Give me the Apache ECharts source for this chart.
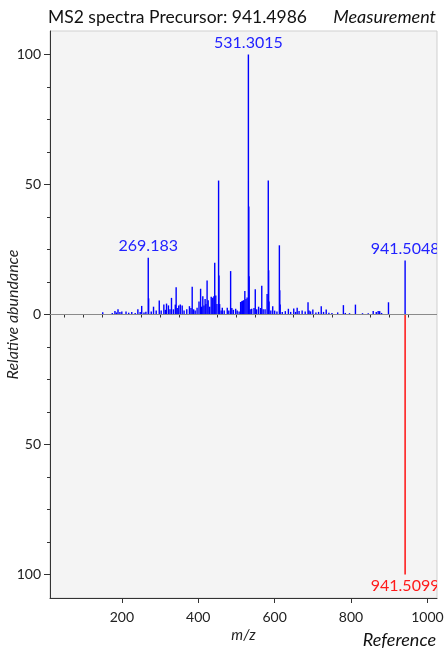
<!DOCTYPE html>
<html>
<head>
<meta charset="utf-8">
<script src="https://cdn.jsdelivr.net/npm/echarts@6/dist/echarts.min.js"></script>
<style>
  html, body { margin: 0; padding: 0; background: #ffffff; }
  #chart { width: 445px; height: 652px; }
</style>
</head>
<body>
<div id="chart"></div>
<script>
// Measured MS2 spectrum (m/z, relative abundance %)
const measuredMz = [
  150, 175, 182, 186, 190, 195, 200, 211, 218, 226, 235, 242, 248, 252, 258, 263,
  269.183, 270.19, 277, 283, 290, 298, 303, 310, 314, 317, 322, 326, 330, 335, 340,
  342.2, 345, 349, 353, 358, 363, 370, 377, 381, 384.2, 388, 392, 397, 402, 406.2,
  409, 412, 415, 418, 420, 423.2, 426, 430, 434, 438, 441, 443.2, 446, 449, 453.28,
  454.28, 456, 460, 463, 468, 476, 480, 484.8, 488, 492, 498, 502, 507, 511, 514,
  516, 519, 522, 525, 528, 531.3015, 532.3, 533.3, 536, 540, 546, 549.3, 553, 558,
  563, 566.3, 570, 575, 580.3, 583.36, 584.36, 585.4, 590, 595, 600, 606, 612.4,
  613.4, 614.4, 620, 628, 636, 642, 650, 655, 659, 664, 672, 680, 687.4, 690, 694,
  700, 708, 715, 722, 728, 735, 742, 750, 765, 780, 785, 796, 811.5, 830, 845, 858,
  866, 871, 875, 880, 898, 941.5048
];
const measuredIntensity = [
  0.9, 0.6, 1.3, 0.8, 2.0, 1.0, 1.2, 1.2, 0.7, 1.0, 0.6, 2.0, 1.0, 3.3, 0.8, 1.1,
  21.8, 6.2, 1.2, 3.0, 1.5, 5.4, 1.5, 3.8, 1.8, 4.2, 3.5, 2.0, 6.4, 2.0, 3.8,
  10.5, 2.5, 3.5, 3.8, 3.5, 1.5, 2.0, 3.2, 2.5, 10.7, 2.0, 1.5, 2.6, 5.0, 9.9,
  3.0, 7.0, 3.5, 6.0, 4.0, 13.1, 5.5, 3.0, 6.8, 6.4, 7.0, 19.9, 7.3, 4.0, 51.5,
  15.0, 4.0, 1.5, 2.6, 1.5, 2.6, 1.5, 16.7, 2.5, 1.8, 2.2, 1.5, 1.2, 4.8, 5.1,
  5.3, 5.5, 9.0, 6.0, 6.5, 100, 41.5, 14.7, 2.0, 2.2, 2.5, 9.7, 2.0, 3.0,
  2.5, 11.1, 2.0, 2.0, 7.9, 51.5, 17.0, 5.0, 1.5, 3.2, 1.5, 1.2, 26.6,
  9.3, 3.8, 1.0, 1.3, 2.2, 1.0, 2.3, 1.0, 2.6, 1.3, 1.5, 1.2, 4.7, 1.5, 1.2,
  1.9, 0.8, 1.0, 3.2, 1.0, 1.9, 0.7, 0.6, 0.8, 3.6, 0.6, 0.5, 3.8, 0.5, 0.5, 1.3,
  1.0, 1.3, 1.3, 0.6, 4.7, 20.8
];
const measuredLabelled = [269.183, 531.3015, 941.5048];

// Reference spectrum, drawn mirrored below the axis
const referenceMz = [941.5099];
const referenceIntensity = [100];
const referenceLabelled = [941.5099];

// Axis ticks
const mzTicks = [200, 400, 600, 800, 1000];
const mzMinorTicks = [50, 100, 150, 250, 300, 350, 450, 500, 550, 650, 700, 750, 850, 900, 950];
const abundanceTicks = [-100, -50, 0, 50, 100];
const abundanceMinorTicks = [-87.5, -75, -62.5, -37.5, -25, -12.5, 12.5, 25, 37.5, 62.5, 75, 87.5];

const titleText = 'MS2 spectra Precursor: 941.4986';
const FONT = 'Lato, "Noto Sans", sans-serif';

const chart = echarts.init(document.getElementById('chart'), null, { renderer: 'canvas' });

function peakRenderer(color, labelColor, sign, labelled) {
  return function (params, api) {
    const mz = api.value(0);
    const val = api.value(1) * sign;
    const base = api.coord([mz, 0]);
    const tip = api.coord([mz, val]);
    const children = [{
      type: 'line',
      shape: { x1: base[0], y1: base[1], x2: tip[0], y2: tip[1] },
      style: { stroke: color, lineWidth: 1.4 }
    }];
    if (labelled.indexOf(mz) >= 0) {
      children.push({
        type: 'text',
        x: tip[0],
        y: tip[1] + (sign > 0 ? -4 : 3),
        style: {
          text: String(mz),
          fill: labelColor,
          font: '16px ' + FONT,
          align: 'center',
          verticalAlign: sign > 0 ? 'bottom' : 'top'
        }
      });
    }
    return { type: 'group', children: children };
  };
}

const xMin = 12, xMax = 1025;
const yMin = -109, yMax = 109;

const option = {
  backgroundColor: '#ffffff',
  animation: false,
  textStyle: { fontFamily: FONT },
  grid: {
    left: 50, right: 8, top: 31, bottom: 54,
    containLabel: false, outerBoundsMode: 'none',
    show: true, backgroundColor: '#f4f4f4', borderColor: '#cfcfcf', borderWidth: 1
  },
  xAxis: [
    {
      type: 'value', min: xMin, max: xMax, position: 'bottom',
      name: 'm/z', nameLocation: 'middle', nameGap: 30, nameMoveOverlap: false,
      nameTextStyle: { fontStyle: 'italic', fontSize: 15, color: '#222', fontFamily: FONT },
      axisLine: { show: true, onZero: false, lineStyle: { color: '#333', width: 1 } },
      axisTick: { show: true, customValues: mzTicks, length: 5, lineStyle: { color: '#333' } },
      axisLabel: {
        customValues: mzTicks, margin: 12, fontSize: 14, color: '#222', fontFamily: FONT,
        formatter: function (v) { return String(v); }
      },
      splitLine: { show: false }
    },
    {
      type: 'value', min: xMin, max: xMax, position: 'bottom',
      axisLine: { show: false },
      axisTick: { show: true, customValues: mzMinorTicks, length: 3, lineStyle: { color: '#333' } },
      axisLabel: { show: false },
      splitLine: { show: false }
    }
  ],
  yAxis: [
    {
      type: 'value', min: yMin, max: yMax, position: 'left',
      name: 'Relative abundance', nameLocation: 'middle', nameGap: 29, nameRotate: 90,
      nameMoveOverlap: false,
      nameTextStyle: { fontStyle: 'italic', fontSize: 16, color: '#222', fontFamily: FONT },
      axisLine: { show: true, onZero: false, lineStyle: { color: '#333', width: 1 } },
      axisTick: { show: true, customValues: abundanceTicks, length: 6, lineStyle: { color: '#333' } },
      axisLabel: {
        customValues: abundanceTicks, margin: 9, fontSize: 14, color: '#222', fontFamily: FONT,
        formatter: function (v) { return String(Math.abs(v)); }
      },
      splitLine: { show: false }
    },
    {
      type: 'value', min: yMin, max: yMax, position: 'left',
      axisLine: { show: false },
      axisTick: { show: true, customValues: abundanceMinorTicks, length: 3, lineStyle: { color: '#333' } },
      axisLabel: { show: false },
      splitLine: { show: false }
    }
  ],
  graphic: [
    {
      type: 'text', left: 48, top: 8,
      style: { text: titleText, font: '17.5px ' + FONT, fill: '#111' }
    },
    {
      type: 'text', right: 9, top: 8,
      style: { text: 'Measurement', font: 'italic 18px ' + FONT, fill: '#111' }
    },
    {
      type: 'text', right: 9, top: 631,
      style: { text: 'Reference', font: 'italic 18px ' + FONT, fill: '#111' }
    }
  ],
  series: [
    {
      type: 'custom',
      name: 'Measurement',
      clip: true,
      xAxisIndex: 0, yAxisIndex: 0,
      renderItem: peakRenderer('#0000ff', '#2222ff', 1, measuredLabelled),
      encode: { x: 0, y: 1 },
      data: measuredMz.map((mz, i) => [mz, measuredIntensity[i]]),
      markLine: {
        silent: true, symbol: 'none', label: { show: false },
        lineStyle: { color: '#8a8a8a', width: 1, type: 'solid' },
        data: [{ yAxis: 0 }]
      },
      z: 3
    },
    {
      type: 'custom',
      name: 'Reference',
      clip: true,
      xAxisIndex: 0, yAxisIndex: 0,
      renderItem: peakRenderer('#ff0000', '#ff1a1a', -1, referenceLabelled),
      encode: { x: 0, y: 1 },
      data: referenceMz.map((mz, i) => [mz, referenceIntensity[i]]),
      z: 4
    }
  ]
};

chart.setOption(option);
</script>
</body>
</html>
